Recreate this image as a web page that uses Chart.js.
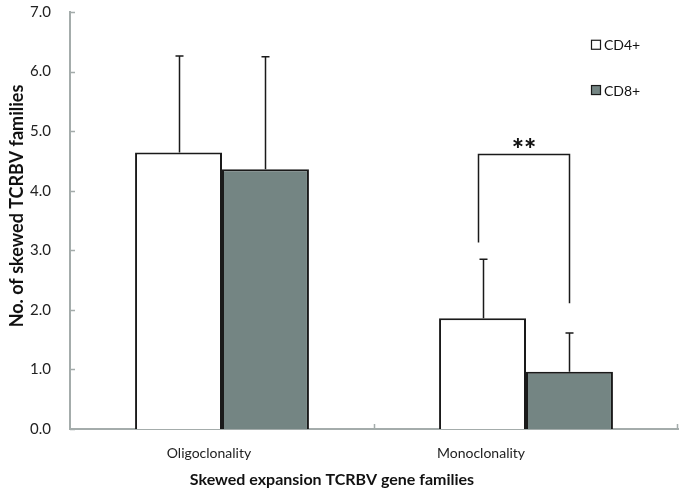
<!DOCTYPE html>
<html>
<head>
<meta charset="utf-8">
<script src="https://cdn.jsdelivr.net/npm/chart.js@4.4.0/dist/chart.umd.min.js"></script>
<style>
  body { margin: 0; background: #fff; }
  #wrap { width: 685px; height: 489px; }
</style>
</head>
<body>
<div id="wrap"><canvas id="myChart" width="685" height="489"></canvas></div>
<script>
// data
let categories = ["Oligoclonality", "Monoclonality"];
let seriesNames = ["CD4+", "CD8+"];
let cd4Values = [4.64, 1.86];
let cd8Values = [4.36, 0.96];
let cd4Errors = [1.62, 0.99];
let cd8Errors = [1.89, 0.65];
let yTicks = [0, 1, 2, 3, 4, 5, 6, 7];
// significance bracket: [left leg bottom, right leg bottom, top] in data units
let sigLabel = "**";
let sigBracket = [3.13, 2.11, 4.61];
let xTitle = "Skewed expansion TCRBV gene families";
let yTitle = "No. of skewed TCRBV families";

let barColors = ["#ffffff", "#748583"];
let fontName = "Lato, 'Open Sans', sans-serif";
// the category labels sit a bit left of the bar pairs in the original
let labelShift = [-13, -45];

// error bars, inward ticks, legend, bracket, labels and titles
let extrasPlugin = {
  id: "extras",
  afterDatasetsDraw(chart) {
    let ctx = chart.ctx;
    let y = chart.scales.y;
    let x = chart.scales.x;
    let errs = [cd4Errors, cd8Errors];
    let vals = [cd4Values, cd8Values];
    ctx.save();
    ctx.strokeStyle = "#1a1a1a";
    ctx.lineWidth = 1.5;
    for (let d = 0; d < 2; d++) {
      let meta = chart.getDatasetMeta(d);
      for (let i = 0; i < meta.data.length; i++) {
        let bx = Math.round(meta.data[i].x) + 0.5;
        let top = y.getPixelForValue(vals[d][i]);
        let e = y.getPixelForValue(vals[d][i] + errs[d][i]);
        ctx.beginPath();
        ctx.moveTo(bx, top);
        ctx.lineTo(bx, e);
        ctx.moveTo(bx - 4, e);
        ctx.lineTo(bx + 4, e);
        ctx.stroke();
      }
    }

    // bracket over Monoclonality
    let m4 = chart.getDatasetMeta(0).data[1];
    let m8 = chart.getDatasetMeta(1).data[1];
    let lx = Math.round(m4.x - m4.width * 0.05) + 0.5;
    let rx = Math.round(m8.x) + 0.5;
    let ty = Math.round(y.getPixelForValue(sigBracket[2])) + 0.5;
    ctx.lineWidth = 1.5;
    ctx.beginPath();
    ctx.moveTo(lx, y.getPixelForValue(sigBracket[0]));
    ctx.lineTo(lx, ty);
    ctx.lineTo(rx, ty);
    ctx.lineTo(rx, y.getPixelForValue(sigBracket[1]));
    ctx.stroke();
    ctx.fillStyle = "#111";
    ctx.font = "900 29px " + fontName;
    ctx.textAlign = "center";
    ctx.textBaseline = "alphabetic";
    ctx.fillText(sigLabel, (lx + rx) / 2, ty + 4);

    // inward tick marks
    ctx.strokeStyle = "#a4acab";
    ctx.lineWidth = 1.5;
    ctx.beginPath();
    for (let t of yTicks) {
      let py = Math.round(y.getPixelForValue(t)) + 0.5;
      ctx.moveTo(x.left, py);
      ctx.lineTo(x.left + 5, py);
    }
    let mid = Math.round((x.getPixelForValue(0) + x.getPixelForValue(1)) / 2) + 0.5;
    ctx.moveTo(mid, y.bottom);
    ctx.lineTo(mid, y.bottom - 5);
    ctx.moveTo(x.right - 0.5, y.bottom);
    ctx.lineTo(x.right - 0.5, y.bottom - 5);
    ctx.stroke();

    // legend
    ctx.font = "14px " + fontName;
    ctx.textAlign = "left";
    ctx.textBaseline = "middle";
    for (let d = 0; d < 2; d++) {
      let ly = y.getPixelForValue(6.45 - d * 0.76);
      ctx.fillStyle = barColors[d];
      ctx.fillRect(591, ly - 5, 10, 10);
      ctx.strokeStyle = "#1a1a1a";
      ctx.lineWidth = 1.2;
      ctx.strokeRect(591.5, ly - 4.5, 9, 9);
      ctx.fillStyle = "#111";
      ctx.fillText(seriesNames[d], 604, ly + 1);
    }

    // category labels
    ctx.fillStyle = "#222";
    ctx.font = "14px " + fontName;
    ctx.textAlign = "center";
    ctx.textBaseline = "alphabetic";
    for (let i = 0; i < categories.length; i++) {
      ctx.fillText(categories[i], x.getPixelForValue(i) + labelShift[i], y.bottom + 29);
    }

    // axis titles
    ctx.fillStyle = "#111";
    ctx.font = "bold 16px " + fontName;
    ctx.fillText(xTitle, 332, 485);
    ctx.translate(23, 206);
    ctx.rotate(-Math.PI / 2);
    ctx.font = "bold 18px " + fontName;
    ctx.fillText(yTitle, 0, 0);
    ctx.restore();
  }
};

new Chart("myChart", {
  type: "bar",
  data: {
    labels: categories,
    datasets: [
      {
        label: seriesNames[0],
        data: cd4Values,
        backgroundColor: barColors[0],
        borderColor: "#1a1a1a",
        borderWidth: 2,
        borderSkipped: "bottom",
      },
      {
        label: seriesNames[1],
        data: cd8Values,
        backgroundColor: barColors[1],
        borderColor: "#1a1a1a",
        borderWidth: 2,
        borderSkipped: "bottom",
      },
    ],
  },
  options: {
    responsive: false,
    animation: false,
    devicePixelRatio: 1,
    layout: { padding: { top: 12, right: 7, left: 0, bottom: 0 } },
    plugins: {
      legend: { display: false },
      tooltip: { enabled: false },
    },
    datasets: {
      bar: { categoryPercentage: 0.572, barPercentage: 1.0 },
    },
    scales: {
      x: {
        grid: { display: false, drawTicks: false },
        border: { color: "#a4acab", width: 2 },
        ticks: { display: false },
        afterFit(scale) { scale.height = 60; },
      },
      y: {
        min: 0,
        max: 7,
        grid: { display: false, drawTicks: false },
        border: { color: "#a4acab", width: 2 },
        ticks: {
          stepSize: 1,
          color: "#222",
          font: { family: fontName, size: 15 },
          padding: 19,
          callback: (v) => v.toFixed(1),
        },
        afterFit(scale) {
          scale.width = 70;
          scale.paddingTop = 0;
          scale.paddingBottom = 0;
        },
      },
    },
  },
  plugins: [extrasPlugin],
});
</script>
</body>
</html>
